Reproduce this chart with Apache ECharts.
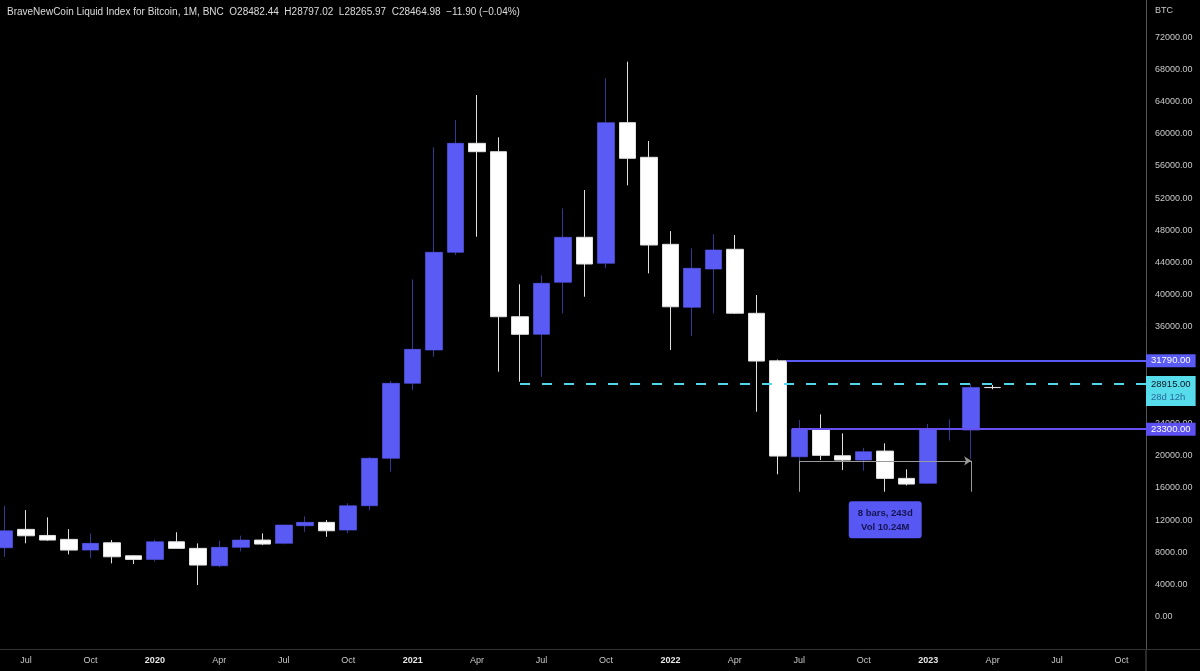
<!DOCTYPE html>
<html>
<head>
<meta charset="utf-8">
<script src="https://cdn.jsdelivr.net/npm/echarts@6/dist/echarts.min.js"></script>
<style>
  html, body { margin: 0; padding: 0; background: #000; }
  #chart { width: 1200px; height: 671px; }
</style>
</head>
<body>
<div id="chart"></div>
<script>
// 月线数据（2019-06 ~ 2023-04）
const months = ['2019-06', '2019-07', '2019-08', '2019-09', '2019-10', '2019-11', '2019-12',
  '2020-01', '2020-02', '2020-03', '2020-04', '2020-05', '2020-06', '2020-07', '2020-08', '2020-09', '2020-10', '2020-11', '2020-12',
  '2021-01', '2021-02', '2021-03', '2021-04', '2021-05', '2021-06', '2021-07', '2021-08', '2021-09', '2021-10', '2021-11', '2021-12',
  '2022-01', '2022-02', '2022-03', '2022-04', '2022-05', '2022-06', '2022-07', '2022-08', '2022-09', '2022-10', '2022-11', '2022-12',
  '2023-01', '2023-02', '2023-03', '2023-04']
const opens = [8570, 10857, 10100, 9615, 8285, 9192, 7577,
  7130, 9316, 8497, 6335, 8621, 9528, 9118, 11304, 11726, 10770, 13788, 19676,
  28993, 33130, 45265, 58800, 57760, 37266, 35080, 41540, 47130, 43900, 61370, 57064,
  46255, 38433, 43190, 45640, 37690, 31790, 19875, 23317, 20000, 19465, 20580, 17190,
  16570, 23250, 23190, 28482.44]
const highs = [13800, 13250, 12350, 10890, 10350, 9528, 7660,
  9560, 10500, 9118, 9450, 10080, 10360, 11440, 12470, 12010, 14100, 19850, 29300,
  41900, 58300, 61700, 64800, 59550, 41290, 42400, 50730, 53000, 66870, 68940, 59090,
  47900, 45760, 47500, 47420, 39960, 31950, 24430, 25140, 22780, 20980, 21540, 18310,
  23950, 24500, 28915, 28797.02]
const lows = [7450, 9120, 9440, 7750, 7300, 6630, 6546,
  6860, 8450, 3938, 6150, 8120, 8906, 8990, 10550, 9938, 10380, 13200, 18012,
  28150, 32300, 44950, 47200, 30434, 29190, 29813, 37690, 39750, 43300, 53580, 42650,
  33130, 34870, 37690, 37600, 25465, 17690, 18800, 19465, 18220, 18150, 15530, 16300,
  16500, 21900, 19600, 28265.97]
const closes = [10680, 10062, 9528, 8285, 9118, 7453, 7130,
  9316, 8497, 6422, 8621, 9528, 9031, 11391, 11726, 10683, 13788, 19676, 28993,
  33216, 45265, 58800, 57760, 37266, 35080, 41415, 47130, 43813, 61370, 56940, 46170,
  38500, 43280, 45550, 37700, 31760, 19963, 23280, 20050, 19465, 20500, 17190, 16480,
  23280, 23330, 28482, 28464.98]

// 横轴刻度（每 3 个月一个，从 2019-07 开始）
const tickLabels = ['Jul', 'Oct', '2020', 'Apr', 'Jul', 'Oct', '2021', 'Apr', 'Jul',
  'Oct', '2022', 'Apr', 'Jul', 'Oct', '2023', 'Apr', 'Jul', 'Oct']
// 纵轴刻度
const priceTicks = [0, 4000, 8000, 12000, 16000, 20000, 24000, 28000, 32000, 36000,
  40000, 44000, 48000, 52000, 56000, 60000, 64000, 68000, 72000]

// 画线标注：水平价位线
const levelPrices = [31790, 28915, 23300]
const levelStarts = [35.4, 23, 35.65]   // 月份序号（2019-07 = 0）
const countdown = '28d 12h'
// 日期范围工具
const rangeMonths = [36, 44]
const rangePrices = [19370, 15530]
const rangeText = ['8 bars, 243d', 'Vol 10.24M']

const X_MIN = -1.21
const X_MAX = 52.14
const BLUE = '#5a5af5'
const FONT = 'Liberation Sans'

const candles = months.map((m, i) => [i - 1, opens[i], closes[i], lows[i], highs[i]])

const chart = echarts.init(document.getElementById('chart'))

const option = {
  backgroundColor: '#000',
  animation: false,
  title: {
    text: 'BraveNewCoin Liquid Index for Bitcoin, 1M, BNC  O28482.44  H28797.02  L28265.97  C28464.98  \u221211.90 (\u22120.04%)',
    left: 7,
    top: 7,
    padding: 0,
    textStyle: { color: '#dcdcdc', fontSize: 10, fontWeight: 'normal', fontFamily: FONT }
  },
  grid: { left: 0, right: 54, top: 0, bottom: 22 },
  xAxis: {
    type: 'value',
    min: X_MIN,
    max: X_MAX,
    splitLine: { show: false },
    axisTick: { show: false },
    axisLine: { onZero: false, lineStyle: { color: '#333' } },
    axisLabel: {
      customValues: tickLabels.map((_, i) => i * 3),
      color: '#c8c8c8',
      fontSize: 9,
      fontFamily: FONT,
      margin: 7,
      formatter: v => {
        const t = tickLabels[Math.round(v / 3)] || ''
        return /^\d{4}$/.test(t) ? '{y|' + t + '}' : t
      },
      rich: { y: { color: '#e6e6e6', fontSize: 9, fontWeight: 'bold', fontFamily: FONT } }
    }
  },
  yAxis: {
    type: 'value',
    position: 'right',
    min: -4000,
    max: 76600,
    splitLine: { show: false },
    axisTick: { show: false },
    axisLine: { show: true, onZero: false, lineStyle: { color: '#555' } },
    axisLabel: {
      customValues: priceTicks,
      color: '#c8c8c8',
      fontSize: 9,
      fontFamily: FONT,
      margin: 9,
      formatter: v => v.toFixed(2)
    }
  },
  graphic: [
    { type: 'text', left: 1155, top: 6, style: { text: 'BTC', fill: '#c8c8c8', font: '9px ' + FONT } },
    { type: 'line', shape: { x1: 1146, y1: 649, x2: 1146, y2: 671 }, style: { stroke: '#555', lineWidth: 1 } },
    { type: 'line', shape: { x1: 1146, y1: 649.5, x2: 1200, y2: 649.5 }, style: { stroke: '#333', lineWidth: 1 } }
  ],
  series: [{
    name: 'BTC',
    type: 'candlestick',
    barWidth: 17,
    encode: { x: 0, y: [1, 2, 3, 4] },
    data: candles,
    itemStyle: {
      color: BLUE,
      borderColor: 'rgba(90,90,245,0.6)',
      color0: '#ffffff',
      borderColor0: '#e0e0e0',
      borderWidth: 1
    },
    markLine: {
      silent: true,
      symbol: ['none', 'none'],
      animation: false,
      data: [
        // 31790
        [
          {
            coord: [levelStarts[0], levelPrices[0]],
            lineStyle: { color: BLUE, width: 2, type: 'solid' },
            label: {
              show: true, position: 'end', distance: 0,
              formatter: levelPrices[0].toFixed(2),
              backgroundColor: BLUE, color: '#fff', fontSize: 9.5, fontFamily: FONT,
              padding: [2, 5, 1, 5]
            }
          },
          { coord: [X_MAX, levelPrices[0]] }
        ],
        // 28915 虚线
        [
          {
            coord: [levelStarts[1], levelPrices[1]],
            lineStyle: { color: '#4fd8ea', width: 2, type: [10, 12] },
            label: {
              show: true, position: 'end', distance: 0,
              formatter: '{a|' + levelPrices[1].toFixed(2) + '}\n{b|' + countdown + '}',
              backgroundColor: '#57dcec', padding: [2, 5, 2, 5], offset: [0, 7],
              rich: {
                a: { color: '#0b1620', fontSize: 9.5, fontFamily: FONT, lineHeight: 13 },
                b: { color: '#2a6b9c', fontSize: 9.5, fontFamily: FONT, lineHeight: 13 }
              }
            }
          },
          { coord: [X_MAX, levelPrices[1]] }
        ],
        // 23300
        [
          {
            coord: [levelStarts[2], levelPrices[2]],
            lineStyle: { color: '#6650f0', width: 2, type: 'solid' },
            label: {
              show: true, position: 'end', distance: 0,
              formatter: levelPrices[2].toFixed(2),
              backgroundColor: '#5d50f2', color: '#fff', fontSize: 9.5, fontFamily: FONT,
              padding: [2, 5, 1, 5]
            }
          },
          { coord: [X_MAX, levelPrices[2]] }
        ],
        // 日期范围：箭头 + 两条竖线
        [
          { coord: [rangeMonths[0], rangePrices[0]], lineStyle: { color: '#9a9a9a', width: 1, type: 'solid' }, label: { show: false } },
          { coord: [rangeMonths[1], rangePrices[0]], symbol: 'arrow', symbolSize: 7 }
        ],
        [
          { coord: [rangeMonths[0], rangePrices[0]], lineStyle: { color: '#9a9a9a', width: 1, type: 'solid' }, label: { show: false } },
          { coord: [rangeMonths[0], rangePrices[1]] }
        ],
        [
          { coord: [rangeMonths[1], rangePrices[0]], lineStyle: { color: '#9a9a9a', width: 1, type: 'solid' }, label: { show: false } },
          { coord: [rangeMonths[1], rangePrices[1]] }
        ]
      ]
    },
    markPoint: {
      silent: true,
      animation: false,
      symbol: 'rect',
      symbolSize: 1,
      itemStyle: { color: 'rgba(0,0,0,0)' },
      data: [{
        coord: [(rangeMonths[0] + rangeMonths[1]) / 2, 14400],
        label: {
          show: true,
          position: 'bottom',
          distance: 0,
          formatter: rangeText.join('\n'),
          backgroundColor: '#5757f3',
          borderRadius: 3,
          padding: [5, 9, 4, 9],
          color: '#141450',
          fontSize: 9.5,
          fontWeight: 'bold',
          fontFamily: FONT,
          lineHeight: 14,
          align: 'center'
        }
      }]
    }
  }]
}

chart.setOption(option)
</script>
</body>
</html>
